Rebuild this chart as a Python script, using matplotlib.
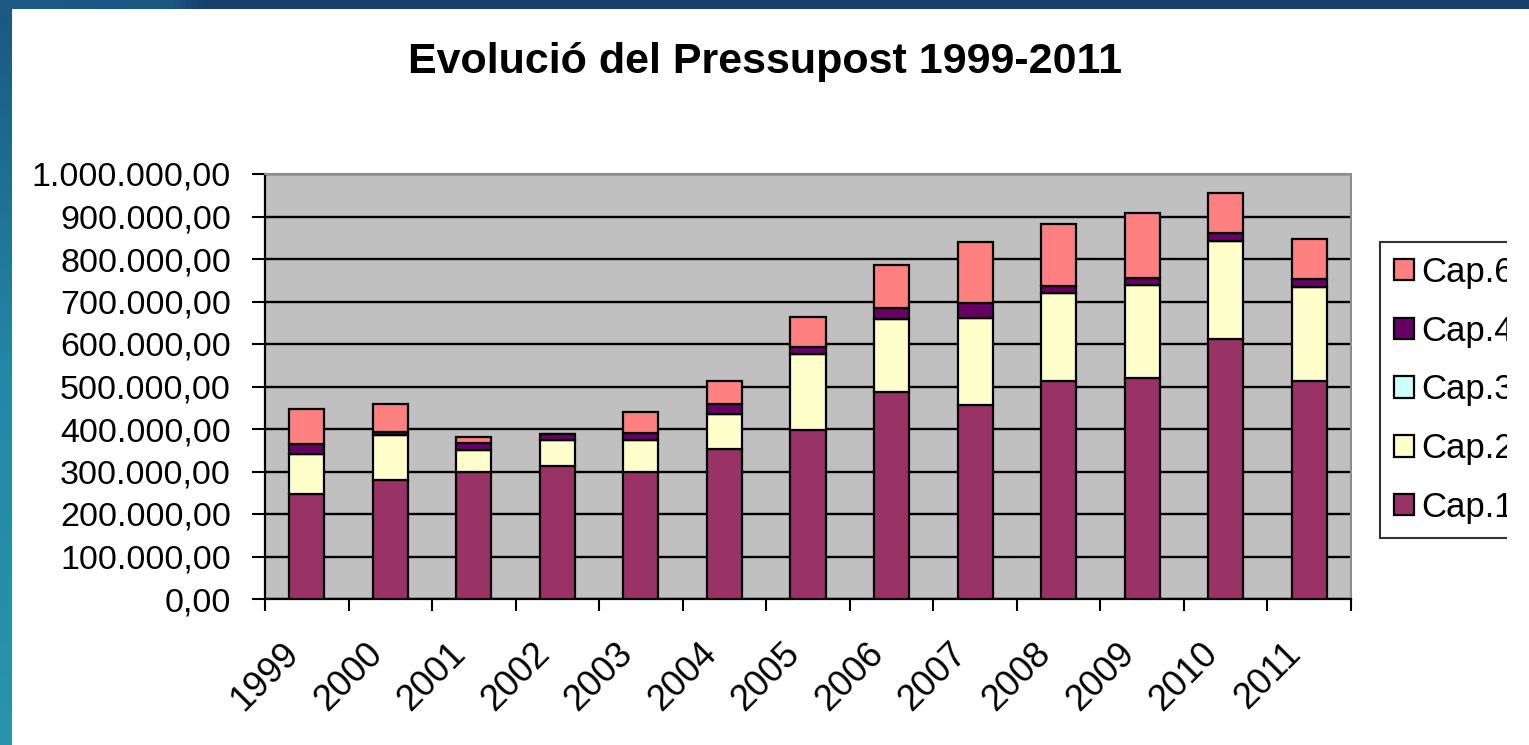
import numpy as np
import matplotlib
matplotlib.use("Agg")
import matplotlib.pyplot as plt
from matplotlib.patches import Rectangle
from matplotlib.colors import LinearSegmentedColormap
from matplotlib.ticker import FuncFormatter, MultipleLocator

# data (euros)
years = ['1999', '2000', '2001', '2002', '2003', '2004', '2005',
         '2006', '2007', '2008', '2009', '2010', '2011']
cap1 = [246000, 279000, 299000, 312000, 298000, 352000, 397000,
        488000, 456000, 512000, 520000, 612000, 514000]
cap2 = [96000, 108000, 51000, 62000, 75000, 84000, 180000,
        170000, 205000, 208000, 219000, 231000, 220000]
cap3 = [0, 0, 0, 0, 0, 0, 0, 0, 0, 0, 0, 0, 0]
cap4 = [23000, 6000, 16000, 15000, 18000, 22000, 16000,
        26000, 35000, 17000, 16000, 18000, 20000]
cap6 = [82000, 67000, 15000, 0, 50000, 54000, 71000,
        101000, 143000, 146000, 154000, 94000, 92000]

series = [('Cap.1', cap1, '#993366'),
          ('Cap.2', cap2, '#FFFFCC'),
          ('Cap.3', cap3, '#CCFFFF'),
          ('Cap.4', cap4, '#660066'),
          ('Cap.6', cap6, '#FF8080')]

W, H = 1529, 745
plt.rcParams['font.family'] = ['Liberation Sans', 'DejaVu Sans']

fig = plt.figure(figsize=(W / 100, H / 100), dpi=100)
fig.patch.set_facecolor('white')

# blue frame (left and top strips)
left_strip = fig.add_axes([0, 0, 12 / W, 1], zorder=-5)
cm_left = LinearSegmentedColormap.from_list('l', ['#1B5783', '#2388A6', '#2A93AD'])
left_strip.imshow(np.linspace(0, 1, 256).reshape(-1, 1), aspect='auto', cmap=cm_left)
left_strip.axis('off')

ax = fig.add_axes([265 / W, 1 - 599 / H, (1351 - 265) / W, (599 - 174) / H])
ax.set_facecolor('#C0C0C0')

x = np.arange(len(years))
bottom = np.zeros(len(years))
handles = []
for name, vals, col in series:
    b = ax.bar(x, vals, 0.42, bottom=bottom, color=col, edgecolor='black',
               linewidth=1.6, label=name, zorder=3)
    bottom += np.array(vals)
    handles.append(b)

ax.set_xlim(-0.5, len(years) - 0.5)
ax.set_ylim(0, 1000000)
ax.yaxis.set_major_locator(MultipleLocator(100000))
ax.yaxis.set_major_formatter(FuncFormatter(
    lambda v, p: f"{v:,.2f}".replace(',', 'X').replace('.', ',').replace('X', '.')))
ax.grid(axis='y', color='black', linewidth=1.7, zorder=1)
ax.set_axisbelow(True)

# category labels sit on the boundary ticks, like the original
ax.set_xticks(np.arange(len(years) + 1) - 0.5)
ax.set_xticklabels(years + [''], rotation=45, ha='center')

ax.tick_params(axis='y', direction='out', length=9.5, width=1.5, pad=15,
               labelsize=24.5, colors='black')
ax.tick_params(axis='x', direction='out', length=8.6, width=1.5, pad=18,
               labelsize=26, colors='black')
for s in ['left', 'bottom']:
    ax.spines[s].set_color('black')
    ax.spines[s].set_linewidth(1.6)
for s in ['top', 'right']:
    ax.spines[s].set_color('#8C8C8C')
    ax.spines[s].set_linewidth(1.5)

fig.text(765 / W, 1 - 73 / H, 'Evolució del Pressupost 1999-2011',
         ha='center', va='baseline', fontsize=31, fontweight='bold')

leg = fig.legend(handles[::-1], [h.get_label() for h in handles[::-1]],
                 loc='upper left', bbox_to_anchor=(1380 / W, 1 - 242 / H),
                 fontsize=25, frameon=True, fancybox=False, borderaxespad=0,
                 handlelength=0.58, handleheight=0.58, handletextpad=0.2,
                 labelspacing=0.74, borderpad=0.4)
leg.get_frame().set_edgecolor('black')
leg.get_frame().set_linewidth(1.5)
leg.get_frame().set_facecolor('white')

# the legend is cut off on the right in the original picture
fig.add_artist(Rectangle((1507 / W, 9.5 / H), 1, 1, transform=fig.transFigure,
                         facecolor='white', edgecolor='none', zorder=20))
top_strip = fig.add_axes([0, 1 - 9 / H, 1, 9 / H], zorder=30)
cm_top = LinearSegmentedColormap.from_list('t', [(0, '#1D5A86'), (0.11, '#1C5782'),
                                                 (0.13, '#17426F'), (1, '#15406E')])
top_strip.imshow(np.linspace(0, 1, 512).reshape(1, -1), aspect='auto', cmap=cm_top)
top_strip.axis('off')

fig.savefig('out.png', dpi=100)
